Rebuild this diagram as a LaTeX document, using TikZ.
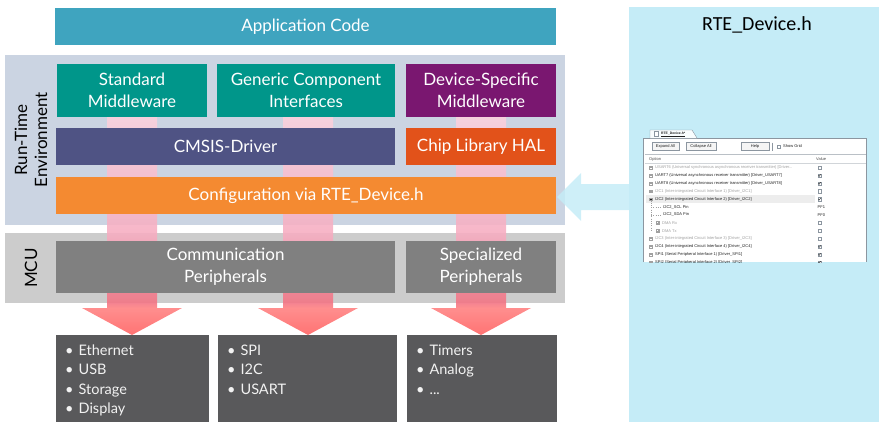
\documentclass[tikz,border=0pt]{standalone}
\usepackage{fontspec}
\setmainfont{Lato}
\newfontfamily\calibfont{Carlito}
\newfontfamily\winfont{Liberation Sans}
\definecolor{appc}{HTML}{3FA4BF}
\definecolor{tealc}{HTML}{00968A}
\definecolor{purp}{HTML}{7A1770}
\definecolor{cmsisc}{HTML}{4F5384}
\definecolor{chipc}{HTML}{E2521A}
\definecolor{cfgc}{HTML}{F48A31}
\definecolor{rtep}{HTML}{CBD4E2}
\definecolor{mcup}{HTML}{CCCCCC}
\definecolor{perc}{HTML}{808080}
\definecolor{darkb}{HTML}{59595B}
\definecolor{lblue}{HTML}{C5ECF7}
\definecolor{pk1}{HTML}{FF6464}
\definecolor{pk2}{HTML}{FF8282}
\definecolor{pk3}{HTML}{F27585}
\definecolor{pk4}{HTML}{F6AEC2}
\definecolor{pk5}{HTML}{FAD0DC}
\definecolor{pk6}{HTML}{FBD3DE}
\definecolor{wingray}{HTML}{8C96A0}
\definecolor{wintext}{HTML}{202020}
\definecolor{wingrey}{HTML}{A0A0A0}
\definecolor{rowhl}{HTML}{EDEDED}
\pgfdeclareverticalshading{pinkshade}{100bp}{color(0bp)=(pk1); color(25bp)=(pk1); color(30bp)=(pk2); color(31bp)=(pk3); color(43.8bp)=(pk4); color(64.7bp)=(pk5); color(75bp)=(pk6); color(100bp)=(pk6)}
\tikzset{
  blk/.style={inner sep=0pt, outer sep=0pt, align=center, text=white, font=\fontsize{17}{22}\selectfont},
  pnl/.style={inner sep=0pt, outer sep=0pt},
  lst/.style={anchor=north west, inner sep=0pt, align=left, text=white!95!black, font=\fontsize{14.5}{19.5}\selectfont},
  sidelbl/.style={rotate=90, align=center, inner sep=0pt, text=black, font=\fontsize{17}{20}\selectfont},
  wtxt/.style={anchor=west, inner sep=0pt, text=wintext, font=\winfont\fontsize{4}{4}\selectfont},
  wdim/.style={wtxt, text=wingrey},
  btn/.style={draw=wingray, line width=0.3pt, fill=gray!8, inner sep=0pt, minimum height=8pt, text=wintext, font=\winfont\fontsize{4}{4}\selectfont},
  pinkarrow/.style={shading=pinkshade, opacity=0.9},
  bluearrow/.style={fill=lblue, fill opacity=0.85}
}
\newcommand{\cbox}[2]{\draw[wingray, line width=0.3pt, fill=white] (#1-1.6,#2-1.6) rectangle (#1+1.6,#2+1.6);}
\newcommand{\cchk}[2]{\cbox{#1}{#2}\draw[wintext, line width=0.4pt] (#1-1,#2) -- (#1-0.2,#2+0.9) -- (#1+1.1,#2-1);}
\newcommand{\plusicon}[2]{\draw[wingrey, line width=0.25pt, fill=white] (#1-1.4,#2-1.4) rectangle (#1+1.4,#2+1.4); \draw[wingrey, line width=0.25pt] (#1-0.8,#2) -- (#1+0.8,#2) (#1,#2-0.8) -- (#1,#2+0.8);}
\newcommand{\minusicon}[2]{\draw[wingrey, line width=0.25pt, fill=white] (#1-1.4,#2-1.4) rectangle (#1+1.4,#2+1.4); \draw[wintext, line width=0.25pt] (#1-0.8,#2) -- (#1+0.8,#2);}
\begin{document}
\begin{tikzpicture}[x=1pt,y=-1pt]
\useasboundingbox (0,0) rectangle (885,444);

% right panel
\fill[lblue] (629,7) rectangle (879,422);
\node[inner sep=0pt, font=\calibfont\fontsize{20}{22}\selectfont, text=black] (rtetitle) at (757,25) {RTE\_Device.h};

% panels
\node[pnl, fill=rtep, minimum width=560pt, minimum height=170pt] (rtepanel) at (285,140) {};
\node[pnl, fill=mcup, minimum width=560pt, minimum height=70pt] (mcupanel) at (285,268) {};

% pink arrows
\foreach \c in {132,308,481}{
  \shade[pinkarrow] (\c-25,64) -- (\c+25,64) -- (\c+25,308) -- (\c+50,308) -- (\c,335) -- (\c-50,308) -- (\c-25,308) -- cycle;
}

% blue arrow
\fill[bluearrow] (629,184) -- (581,184) -- (581,173) -- (557,197) -- (581,221) -- (581,210) -- (629,210) -- cycle;

% boxes
\node[blk, fill=appc, minimum width=501pt, minimum height=37pt] (app) at (305.5,26.5) {Application Code};
\node[blk, fill=tealc, minimum width=150pt, minimum height=53pt] (stdmw) at (132,90.5) {Standard\\Middleware};
\node[blk, fill=tealc, minimum width=178pt, minimum height=53pt] (gci) at (306,90.5) {Generic Component\\Interfaces};
\node[blk, fill=purp, minimum width=150pt, minimum height=53pt] (dsm) at (481,90.5) {Device-Specific\\Middleware};
\node[blk, fill=cmsisc, minimum width=339pt, minimum height=37pt] (cmsis) at (225.5,146.5) {CMSIS-Driver};
\node[blk, fill=chipc, minimum width=150pt, minimum height=37pt] (chip) at (481,146.5) {Chip Library HAL};
\node[blk, fill=cfgc, minimum width=500pt, minimum height=37pt] (cfg) at (306,195.5) {Configuration via RTE\_Device.h};
\node[blk, fill=perc, minimum width=339pt, minimum height=52pt] (comm) at (225.5,267) {Communication\\Peripherals};
\node[blk, fill=perc, minimum width=150pt, minimum height=52pt] (spec) at (481,267) {Specialized\\Peripherals};

% side labels
\node[sidelbl] (rtelbl) at (31,140) {Run-Time\\Environment};
\node[sidelbl] (mculbl) at (31,268) {MCU};

% bottom boxes
\node[pnl, fill=darkb, minimum width=153pt, minimum height=87pt] (b1) at (132.5,378.5) {};
\node[pnl, fill=darkb, minimum width=179pt, minimum height=87pt] (b2) at (307.5,378.5) {};
\node[pnl, fill=darkb, minimum width=150pt, minimum height=87pt] (b3) at (482,378.5) {};
\node[lst] (l1) at (65,344.5) {•\hspace{5pt}Ethernet\\•\hspace{5pt}USB\\•\hspace{5pt}Storage\\•\hspace{5pt}Display};
\node[lst] (l2) at (227,344.5) {•\hspace{5pt}SPI\\•\hspace{5pt}I2C\\•\hspace{5pt}USART};
\node[lst] (l3) at (416,344.5) {•\hspace{5pt}Timers\\•\hspace{5pt}Analog\\•\hspace{5pt}...};

% screenshot window
\fill[white] (643,138) rectangle (866,262);
\draw[wingray, line width=0.4pt] (643,262) -- (643,138) -- (866,138) -- (866,262);
\draw[wingray, line width=0.4pt, fill=white!90!lblue] (650,138) -- (650,130) -- (692,130) -- (697,138);
\draw[wingray, line width=0.3pt, fill=white] (654,131.5) rectangle (658,136.5);
\node[wtxt, font=\winfont\bfseries\fontsize{3.4}{4}\selectfont] (tabt) at (661,134) {\underline{RTE\_Device.h*}};
\node[btn, minimum width=27pt] (bexp) at (665.5,146.5) {Expand All};
\node[btn, minimum width=30pt] (bcol) at (701,146.5) {Collapse All};
\node[btn, minimum width=28pt] (bhelp) at (755,146.5) {Help};
\draw[wingray, line width=0.3pt] (772,142.5) -- (772,150.5);
\cbox{779}{146.5}
\node[wtxt] (sgrid) at (783,146.5) {Show Grid};
\draw[wingray!60, line width=0.3pt] (645,154) -- (866,154);
\node[wtxt, text=wintext!80] (hopt) at (649,159) {Option};
\node[wtxt, text=wintext!80] (hval) at (816,159) {Value};
\draw[wingray!40, line width=0.3pt] (645,163) -- (866,163);
\fill[rowhl] (646,195.2) rectangle (815,203);
\begin{scope}
\clip (643,138) rectangle (866,262);
\plusicon{651}{167.5}
\node[wdim] (r1) at (655,167.5) {USART6 (Universal synchronous asynchronous receiver transmitter) [Driver...};
\cbox{819.5}{167.5}
\plusicon{651}{175.4}
\node[wtxt] (r2) at (655,175.4) {UART7 (Universal asynchronous receiver transmitter) [Driver\_USART7]};
\cchk{819.5}{175.4}
\plusicon{651}{183.3}
\node[wtxt] (r3) at (655,183.3) {UART8 (Universal asynchronous receiver transmitter) [Driver\_USART8]};
\cchk{819.5}{183.3}
\plusicon{651}{191.2}
\node[wdim] (r4) at (655,191.2) {I2C1 (Inter-integrated Circuit Interface 1) [Driver\_I2C1]};
\cbox{819.5}{191.2}
\minusicon{651}{199.1}
\node[wtxt] (r5) at (655,199.1) {I2C2 (Inter-integrated Circuit Interface 2) [Driver\_I2C2]};
\cchk{819.5}{199.1}
\draw[wingrey, line width=0.25pt, dotted] (651,200.5) -- (651,230.7) (651,207) -- (661,207) (651,214.9) -- (661,214.9);
\node[wtxt] (r6) at (663,207) {I2C2\_SCL Pin};
\node[wtxt] (v6) at (817.5,207) {PF1};
\node[wtxt] (r7) at (663,214.9) {I2C2\_SDA Pin};
\node[wtxt] (v7) at (817.5,214.9) {PF0};
\plusicon{658}{222.8}
\node[wdim] (r8) at (662,222.8) {DMA Rx};
\cbox{819.5}{222.8}
\plusicon{658}{230.7}
\node[wdim] (r9) at (662,230.7) {DMA Tx};
\cbox{819.5}{230.7}
\plusicon{651}{238.6}
\node[wdim] (r10) at (655,238.6) {I2C3 (Inter-integrated Circuit Interface 3) [Driver\_I2C3]};
\cbox{819.5}{238.6}
\plusicon{651}{246.5}
\node[wtxt] (r11) at (655,246.5) {I2C4 (Inter-integrated Circuit Interface 4) [Driver\_I2C4]};
\cchk{819.5}{246.5}
\plusicon{651}{254.4}
\node[wtxt] (r12) at (655,254.4) {SPI1 (Serial Peripheral Interface 1) [Driver\_SPI1]};
\cchk{819.5}{254.4}
\plusicon{651}{262.3}
\node[wtxt] (r13) at (655,262.3) {SPI2 (Serial Peripheral Interface 2) [Driver\_SPI2]};
\cchk{819.5}{262.3}
\end{scope}
\end{tikzpicture}
\end{document}
